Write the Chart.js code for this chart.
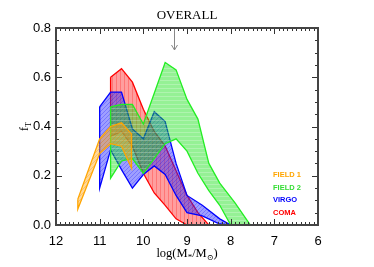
<!DOCTYPE html>
<html>
<head>
<meta charset="utf-8">
<script src="https://cdn.jsdelivr.net/npm/chart.js@4.4.1/dist/chart.umd.min.js"></script>
<style>
  html, body { margin: 0; padding: 0; background: #fff; }
  #wrap { width: 374px; height: 267px; }
</style>
</head>
<body>
<div id="wrap"><canvas id="chart"></canvas></div>
<script>
// log(M*/Msun) bins and f_T envelopes
const field1X = [11.5, 11.0, 10.75, 10.5, 10.27];
const field1Up = [0.105, 0.35, 0.40, 0.415, 0.37];
const field1Lo = [0.065, 0.29, 0.33, 0.32, 0.23];

const field2UpX = [10.75, 10.5, 10.25, 10.0, 9.5, 9.25, 9.0, 8.75, 8.5, 8.25, 7.9, 7.55];
const field2Up = [0.48, 0.49, 0.49, 0.41, 0.66, 0.63, 0.51, 0.43, 0.25, 0.17, 0.09, 0.0];
const field2LoX = [10.75, 10.5, 10.25, 10.0, 9.5, 9.25, 9.0, 8.75, 8.5, 8.25, 8.0];
const field2Lo = [0.19, 0.26, 0.27, 0.21, 0.33, 0.35, 0.30, 0.21, 0.14, 0.08, 0.0];

const virgoX = [11.0, 10.75, 10.5, 10.25, 10.0, 9.75, 9.5, 9.25, 9.0, 8.65, 8.25, 8.0];
const virgoUp = [0.48, 0.54, 0.54, 0.39, 0.35, 0.46, 0.42, 0.25, 0.12, 0.08, 0.025, 0.0];
const virgoLo = [0.15, 0.305, 0.225, 0.15, 0.205, 0.24, 0.205, 0.12, 0.05, 0.037, 0.004, 0.0];

const comaUpX = [10.75, 10.5, 10.25, 10.0, 9.75, 9.5, 9.25, 9.0, 8.75, 8.5];
const comaUp = [0.60, 0.635, 0.58, 0.47, 0.38, 0.32, 0.22, 0.12, 0.05, 0.0];
const comaLoX = [10.75, 10.5, 10.25, 10.0, 9.75, 9.5, 9.25, 9.0];
const comaLo = [0.36, 0.38, 0.32, 0.21, 0.13, 0.08, 0.025, 0.0];

const xTicks = [12, 11, 10, 9, 8, 7, 6];
const yTicks = [0.0, 0.2, 0.4, 0.6, 0.8];
const overallX = 9.3;

// closed outline: upper edge forward, lower edge back
function band(upX, up, loX, lo) {
    const pts = upX.map((x, i) => ({ x: x, y: up[i] }));
    for (let i = loX.length - 1; i >= 0; i--) pts.push({ x: loX[i], y: lo[i] });
    pts.push(pts[0]);
    return pts;
}

function hatch(fill, line, kind) {
    const c = document.createElement("canvas");
    c.width = 4; c.height = 4;
    const g = c.getContext("2d");
    g.fillStyle = fill;
    g.fillRect(0, 0, 4, 4);
    g.fillStyle = line;
    if (kind === "h") g.fillRect(0, 0, 4, 1);
    else if (kind === "v") g.fillRect(0, 0, 1, 4);
    else for (let i = 0; i < 4; i++) g.fillRect(i, 3 - i, 1, 1);
    return g.createPattern(c, "repeat");
}

const serif = "'Liberation Serif', 'DejaVu Serif', serif";
const sans = "'Liberation Sans', Arial, sans-serif";

// frame with inward ticks, titles, arrow and labels
const decor = {
    id: "decor",
    afterDatasetsDraw(chart) {
        const { ctx, chartArea: a, scales } = chart;
        const sx = scales.x, sy = scales.y;
        ctx.save();
        ctx.strokeStyle = "#333";
        ctx.lineWidth = 1;
        ctx.beginPath();
        for (let k = 60; k <= 120; k++) {
            const v = k / 10;
            const px = Math.round(sx.getPixelForValue(v)) + 0.5;
            const len = k % 10 === 0 ? 6 : 3;
            ctx.moveTo(px, a.bottom); ctx.lineTo(px, a.bottom - len);
            ctx.moveTo(px, a.top); ctx.lineTo(px, a.top + len);
        }
        for (let k = 0; k <= 16; k++) {
            const v = k * 0.05;
            const py = Math.round(sy.getPixelForValue(v)) + 0.5;
            const len = k % 4 === 0 ? 6 : 3;
            ctx.moveTo(a.left, py); ctx.lineTo(a.left + len, py);
            ctx.moveTo(a.right, py); ctx.lineTo(a.right - len, py);
        }
        ctx.stroke();
        ctx.lineWidth = 2;
        ctx.strokeStyle = "#444";
        ctx.strokeRect(a.left, a.top, a.right - a.left, a.bottom - a.top);

        // OVERALL arrow
        const ax = Math.round(sx.getPixelForValue(overallX)) + 0.5;
        ctx.lineWidth = 1;
        ctx.strokeStyle = "#888";
        ctx.beginPath();
        ctx.moveTo(ax, a.top + 1); ctx.lineTo(ax, a.top + 22);
        ctx.moveTo(ax - 3, a.top + 17); ctx.lineTo(ax, a.top + 22); ctx.lineTo(ax + 3, a.top + 17);
        ctx.stroke();
        ctx.fillStyle = "#000";
        ctx.font = "13px " + serif;
        ctx.textAlign = "center";
        ctx.textBaseline = "alphabetic";
        ctx.fillText("OVERALL", 187, 19);

        // x title log(M*/M⊙)
        ctx.textAlign = "left";
        const parts = [["log(M", 12.5, 0], ["*", 9, 3], ["/M", 12.5, 0], ["\u2299", 8, 3], [")", 12.5, 0]];
        let w = 0;
        parts.forEach(p => { ctx.font = p[1] + "px " + serif; w += ctx.measureText(p[0]).width; });
        let x = 187 - w / 2;
        parts.forEach(p => {
            ctx.font = p[1] + "px " + serif;
            ctx.fillText(p[0], x, 257 + p[2]);
            x += ctx.measureText(p[0]).width;
        });

        // y title f_T
        ctx.save();
        ctx.translate(28, 131);
        ctx.rotate(-Math.PI / 2);
        ctx.font = "12px " + serif;
        ctx.fillText("f", 0, 0);
        ctx.font = "8px " + serif;
        ctx.fillText("T", 4, 3);
        ctx.restore();

        // labels
        ctx.font = "bold 7.5px " + sans;
        const labels = [["FIELD 1", "#ffa500"], ["FIELD 2", "#33dd33"], ["VIRGO", "#0000ff"], ["COMA", "#ff0000"]];
        labels.forEach((l, i) => {
            ctx.fillStyle = l[1];
            ctx.fillText(l[0], 273, 177 + i * 12.5);
        });
        ctx.restore();
    }
};

const bands = [
    { label: "FIELD 1", data: band(field1X, field1Up, field1X, field1Lo), color: "#ffa500",
      bg: hatch("rgba(255,170,30,0.45)", "rgba(255,150,0,0.35)", "d") },
    { label: "FIELD 2", data: band(field2UpX, field2Up, field2LoX, field2Lo), color: "#22ee22",
      bg: hatch("rgba(20,225,20,0.45)", "rgba(255,255,255,0.25)", "h") },
    { label: "VIRGO", data: band(virgoX, virgoUp, virgoX, virgoLo), color: "#0000ff",
      bg: hatch("rgba(40,40,255,0.45)", "rgba(0,0,255,0.25)", "d") },
    { label: "COMA", data: band(comaUpX, comaUp, comaLoX, comaLo), color: "#ff0000",
      bg: hatch("rgba(255,40,40,0.45)", "rgba(255,0,0,0.25)", "v") }
];

new Chart(document.getElementById("chart"), {
    type: "line",
    data: {
        datasets: bands.map(b => ({
            label: b.label,
            data: b.data,
            borderColor: b.color,
            backgroundColor: b.bg,
            borderWidth: 1.3,
            pointRadius: 0,
            tension: 0,
            fill: "shape"
        }))
    },
    options: {
        responsive: true,
        maintainAspectRatio: false,
        animation: false,
        layout: { padding: { top: 28, right: 56, left: 0, bottom: 0 } },
        plugins: { legend: { display: false }, tooltip: { enabled: false } },
        scales: {
            x: {
                type: "linear", min: 6, max: 12, reverse: true,
                afterFit: s => { s.height = 42; },
                afterBuildTicks: s => { s.ticks = xTicks.map(v => ({ value: v })); },
                grid: { display: false, drawTicks: false },
                border: { display: false },
                ticks: { color: "#000", padding: 9, font: { family: sans, size: 13 }, maxRotation: 0 }
            },
            y: {
                min: 0, max: 0.8,
                afterFit: s => { s.width = 56; },
                afterBuildTicks: s => { s.ticks = yTicks.map(v => ({ value: v })); },
                grid: { display: false, drawTicks: false },
                border: { display: false },
                ticks: { color: "#000", padding: 5, font: { family: sans, size: 13 },
                         callback: v => v.toFixed(1) }
            }
        }
    },
    plugins: [decor]
});
</script>
</body>
</html>
